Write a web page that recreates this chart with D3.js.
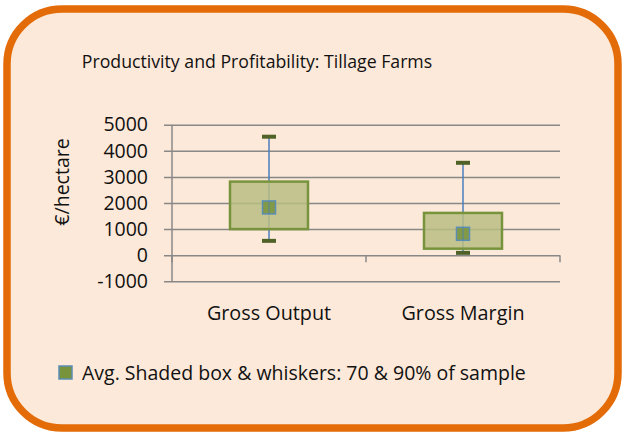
<!DOCTYPE html>
<html>
<head>
<meta charset="utf-8">
<script src="https://cdn.jsdelivr.net/npm/d3@7"></script>
<style>
  body { margin: 0; background: #fff; }
  text { font-family: "Open Sans", sans-serif; fill: #111; }
</style>
</head>
<body>
<svg id="chart"></svg>
<script>
const categories = ["Gross Output", "Gross Margin"];
const avgValues = [1830, 820];
const boxLow = [1000, 250];
const boxHigh = [2820, 1620];
const whiskerLow = [550, 90];
const whiskerHigh = [4540, 3540];
const yTicks = [-1000, 0, 1000, 2000, 3000, 4000, 5000];

const w = 622;
const h = 434;
const plotLeft = 172;
const plotRight = 560;
const plotTop = 124.7;
const plotBottom = 281.3;
const gridColor = "#888888";
const whiskerColor = "#4a7ebb";
const capColor = "#4f6228";
const boxStroke = "#77933c";
const boxFill = "#b9bd82";
const markColor = "#77933c";

const data = categories.map((c, i) => ({
  name: c,
  avg: avgValues[i],
  lo: boxLow[i],
  hi: boxHigh[i],
  wlo: whiskerLow[i],
  whi: whiskerHigh[i]
}));

const svg = d3.select("#chart").attr("width", w).attr("height", h);

// frame
svg.append("rect")
  .attr("x", 7).attr("y", 9)
  .attr("width", 611).attr("height", 419)
  .attr("rx", 55).attr("ry", 55)
  .style("fill", "#fde9d9")
  .style("stroke", "#e36c09")
  .style("stroke-width", 7.5);

svg.append("text")
  .attr("x", 257).attr("y", 68)
  .attr("text-anchor", "middle")
  .style("font-size", "17.7px")
  .text("Productivity and Profitability: Tillage Farms");

const yScale = d3.scaleLinear().domain([-1000, 5000]).range([plotBottom, plotTop]);
const xScale = d3.scaleBand().domain(categories).range([plotLeft, plotRight]);

// gridlines + y axis
const yAxis = d3.axisLeft(yScale).tickValues(yTicks)
  .tickFormat(d => String(d))
  .tickSize(-(plotRight - plotLeft)).tickPadding(24);
const gy = svg.append("g")
  .attr("transform", "translate(" + plotLeft + ",0)")
  .call(yAxis);
gy.select(".domain").remove();
gy.selectAll(".tick line")
  .attr("x1", -8)
  .style("stroke", gridColor).style("stroke-width", 1.5);
gy.selectAll(".tick text")
  .style("font-size", "19.5px").style("font-family", "Open Sans, sans-serif").style("fill", "#111");

svg.append("line")
  .attr("x1", plotLeft).attr("x2", plotLeft)
  .attr("y1", plotTop).attr("y2", plotBottom)
  .style("stroke", gridColor).style("stroke-width", 1.5);

// category axis at zero
const xAxis = d3.axisBottom(xScale).tickSize(0).tickFormat("");
svg.append("g")
  .attr("transform", "translate(0," + yScale(0) + ")")
  .call(xAxis)
  .call(g => g.select(".domain").remove());
const boundaries = [plotLeft, plotLeft + xScale.step(), plotRight];
svg.selectAll(".cat-tick")
  .data(boundaries)
  .enter()
  .append("line")
  .attr("class", "cat-tick")
  .attr("x1", d => d).attr("x2", d => d)
  .attr("y1", yScale(0)).attr("y2", yScale(0) + 7)
  .style("stroke", gridColor).style("stroke-width", 1.5);

svg.selectAll(".cat-label")
  .data(categories)
  .enter()
  .append("text")
  .attr("class", "cat-label")
  .attr("x", d => xScale(d) + xScale.bandwidth() / 2)
  .attr("y", 320)
  .attr("text-anchor", "middle")
  .style("font-size", "19.8px")
  .text(d => d);

svg.append("text")
  .attr("transform", "translate(69,182) rotate(-90)")
  .attr("text-anchor", "middle")
  .style("font-size", "19.5px")
  .text("€/hectare");

// boxes
const boxW = 78;
const groups = svg.selectAll(".item")
  .data(data)
  .enter()
  .append("g")
  .attr("class", "item")
  .attr("transform", d => "translate(" + (xScale(d.name) + xScale.bandwidth() / 2) + ",0)");

groups.append("line")
  .attr("x1", 0).attr("x2", 0)
  .attr("y1", d => yScale(d.whi)).attr("y2", d => yScale(d.wlo))
  .style("stroke", whiskerColor).style("stroke-width", 1.5);

groups.append("rect")
  .attr("x", -boxW / 2)
  .attr("width", boxW)
  .attr("y", d => yScale(d.hi))
  .attr("height", d => yScale(d.lo) - yScale(d.hi))
  .style("fill", boxFill).style("fill-opacity", 0.85)
  .style("stroke", boxStroke).style("stroke-width", 2.5);

groups.selectAll(".cap")
  .data(d => [d.whi, d.wlo])
  .enter()
  .append("line")
  .attr("class", "cap")
  .attr("x1", -7).attr("x2", 7)
  .attr("y1", v => yScale(v)).attr("y2", v => yScale(v))
  .style("stroke", capColor).style("stroke-width", 4);

groups.append("rect")
  .attr("x", -6.5).attr("width", 13)
  .attr("y", d => yScale(d.avg) - 6.5).attr("height", 13)
  .style("fill", markColor).style("fill-opacity", 0.85)
  .style("stroke", "#5b8db5").style("stroke-width", 1.5);

groups.append("line")
  .attr("x1", 0).attr("x2", 0)
  .attr("y1", d => yScale(d.avg) - 6.5).attr("y2", d => yScale(d.avg) + 6.5)
  .style("stroke", whiskerColor).style("stroke-width", 1.5).style("opacity", 0.5);

// legend
svg.append("rect")
  .attr("x", 59).attr("y", 366)
  .attr("width", 13).attr("height", 13)
  .style("fill", markColor)
  .style("stroke", "#5b8db5").style("stroke-width", 1.5);
svg.append("text")
  .attr("x", 82).attr("y", 380)
  .style("font-size", "19.5px")
  .text("Avg. Shaded box & whiskers: 70 & 90% of sample");
</script>
</body>
</html>
